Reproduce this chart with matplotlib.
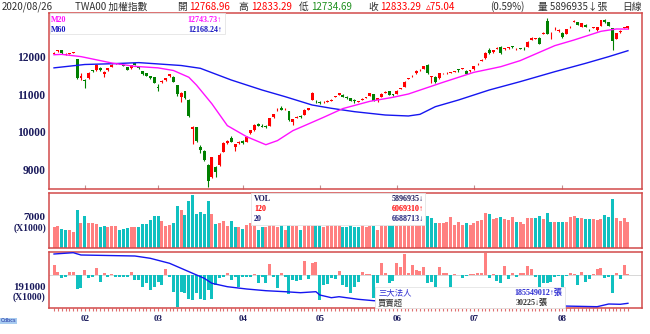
import matplotlib
matplotlib.use("Agg")
import matplotlib.pyplot as plt
import numpy as np
from matplotlib.patches import Rectangle

# ---------------- data ----------------
opens = [12080, 12150, 12175, 12060, 12085, 12110, 11947, 11440, 11390, 11440,
         11640, 11640, 11700, 11545, 11640, 11745, 11825, 11820, 11780, 11720,
         11700, 11840, 11720, 11620, 11560, 11490, 11460, 11200, 11330, 11390,
         11480, 11475, 11250, 10940, 11080, 10860, 10080, 10120, 9600, 9500,
         9120, 8800, 9060, 9120, 9475, 9700, 9830, 9610, 9700, 9760,
         9745, 9965, 10053, 10213, 10168, 10168, 10168, 10392, 10600, 10650,
         10600, 10560, 10276, 10385, 10430, 10453, 10590, 10853, 10800, 10810,
         10790, 10810, 10830, 10930, 10987, 10987, 10942, 10898, 10840, 10800,
         10865, 10905, 10970, 11004, 10853, 10942, 11050, 11084, 10990, 11013,
         11150, 11208, 11410, 11480, 11564, 11640, 11680, 11787, 11460, 11476,
         11431, 11560, 11560, 11580, 11600, 11670, 11690, 11636, 11620, 11671,
         11800, 11900, 11964, 12187, 12124, 12225, 12276, 12200, 12240, 12285,
         12200, 12230, 12235, 12276, 12460, 12480, 12515, 12625, 12968, 12580,
         12740, 12690, 12650, 12610, 12790, 12940, 12920, 12810, 12860, 12720,
         12780, 12710, 12835, 12990, 12925, 12773, 12480, 12670, 12770, 12768.96]
highs = [12130, 12197, 12185, 12100, 12110, 12140, 11950, 11560, 11400, 11600,
         11660, 11800, 11720, 11620, 11710, 11800, 11850, 11840, 11790, 11730,
         11790, 11850, 11740, 11635, 11580, 11500, 11470, 11290, 11390, 11450,
         11550, 11490, 11260, 11060, 11100, 10870, 10170, 10140, 9640, 9520,
         9140, 9330, 9080, 9440, 9720, 9780, 9900, 9690, 9760, 9780,
         9890, 10060, 10200, 10250, 10200, 10190, 10380, 10490, 10650, 10680,
         10640, 10570, 10350, 10420, 10445, 10600, 10650, 11060, 10840, 10830,
         10830, 10850, 10880, 10970, 11045, 11000, 10950, 10905, 10870, 10830,
         10900, 10935, 11040, 11010, 10910, 11030, 11080, 11090, 11000, 11110,
         11180, 11350, 11440, 11510, 11645, 11670, 11770, 11800, 11500, 11490,
         11575, 11585, 11590, 11600, 11630, 11690, 11710, 11650, 11665, 11770,
         11830, 11935, 12125, 12230, 12195, 12260, 12285, 12245, 12270, 12300,
         12230, 12250, 12260, 12420, 12525, 12510, 12525, 12660, 13040, 12660,
         12790, 12740, 12660, 12750, 12820, 12990, 12930, 12910, 12870, 12740,
         12810, 12810, 12995, 13000, 12935, 12780, 12640, 12720, 12800, 12833.29]
lows = [12070, 12140, 12090, 12040, 12070, 12100, 11420, 11380, 11170, 11420,
        11600, 11630, 11620, 11470, 11630, 11740, 11800, 11800, 11750, 11640,
        11690, 11780, 11680, 11530, 11480, 11420, 11300, 11080, 11310, 11370,
        11460, 11320, 10960, 10810, 10880, 10400, 9680, 9740, 9440, 9230,
        8523, 8780, 8800, 9100, 9460, 9680, 9720, 9480, 9690, 9680,
        9730, 9950, 10030, 10150, 10120, 10110, 10160, 10380, 10570, 10580,
        10580, 10300, 10187, 10370, 10380, 10440, 10580, 10840, 10770, 10750,
        10780, 10800, 10820, 10920, 10975, 10930, 10890, 10815, 10782, 10790,
        10860, 10895, 10960, 10830, 10800, 10935, 11040, 10980, 10970, 11000,
        11140, 11200, 11400, 11470, 11555, 11630, 11670, 11550, 11298, 11310,
        11420, 11550, 11550, 11570, 11590, 11610, 11670, 11540, 11610, 11660,
        11790, 11890, 11955, 12090, 12115, 12210, 12080, 12190, 12220, 12250,
        12190, 12210, 12180, 12270, 12450, 12470, 12340, 12610, 12600, 12480,
        12720, 12670, 12510, 12600, 12780, 12920, 12850, 12800, 12790, 12690,
        12760, 12700, 12830, 12915, 12825, 12187, 12470, 12650, 12760, 12734.69]
closes = [12113, 12180, 12100, 12085, 12100, 12118, 11450, 11495, 11360, 11573,
          11615, 11787, 11640, 11600, 11700, 11790, 11830, 11815, 11765, 11660,
          11780, 11790, 11700, 11550, 11500, 11440, 11315, 11170, 11370, 11440,
          11540, 11340, 11000, 11040, 10900, 10430, 10128, 9760, 9510, 9260,
          8700, 9320, 8920, 9380, 9700, 9760, 9745, 9670, 9730, 9700,
          9875, 10050, 10187, 10160, 10125, 10130, 10365, 10480, 10615, 10590,
          10615, 10320, 10338, 10395, 10392, 10587, 10630, 11048, 10790, 10770,
          10810, 10830, 10860, 10945, 11031, 10942, 10898, 10827, 10820, 10810,
          10885, 10920, 11031, 10836, 10898, 11022, 11060, 10987, 10985, 11102,
          11170, 11342, 11431, 11500, 11636, 11655, 11760, 11564, 11480, 11325,
          11564, 11568, 11570, 11585, 11615, 11650, 11700, 11547, 11653, 11760,
          11820, 11925, 12115, 12098, 12187, 12230, 12098, 12231, 12245, 12276,
          12205, 12225, 12230, 12409, 12515, 12490, 12350, 12630, 12613, 12590,
          12750, 12700, 12520, 12740, 12810, 12950, 12860, 12900, 12800, 12710,
          12790, 12800, 12987, 12925, 12835, 12418, 12632, 12680, 12780, 12833.29]

volume_k = [4850, 5000, 4260, 3960, 3960, 3590, 8480, 5740, 7220, 5740,
            5590, 5440, 4850, 5000, 4630, 5000, 5070, 3960, 4260, 4480,
            4850, 4700, 4630, 5440, 5440, 6330, 7220, 7220, 6110, 5070,
            5220, 5740, 9440, 8560, 7440, 10560, 12040, 7590, 8190, 7590,
            10560, 7590, 5370, 5740, 6110, 5000, 6110, 4630, 4630, 4260,
            5220, 5590, 5220, 4110, 4630, 4700, 5370, 5370, 4700, 5370,
            3960, 5370, 5070, 5000, 4110, 5370, 5370, 5370, 5370, 5370,
            4850, 5100, 5220, 5370, 5220, 4850, 4850, 5370, 4850, 4850,
            5220, 4630, 5000, 5070, 4110, 5220, 5070, 5220, 5370, 5000,
            5370, 5370, 5370, 5370, 5370, 5370, 5370, 7220, 6850, 5740,
            5740, 5590, 5810, 6930, 5220, 5810, 5220, 5590, 5220, 5740,
            6180, 6330, 7960, 7670, 6480, 6700, 7070, 6480, 6330, 6930,
            5960, 5960, 5370, 6850, 6700, 6700, 7220, 6480, 7820, 5960,
            5960, 5960, 5960, 5960, 7070, 7300, 6700, 6700, 6480, 6480,
            6480, 6330, 6480, 7440, 7000, 10960, 6700, 6110, 6700, 5897]

inst_net = [100, 33, -27, -17, 33, 33, -143, -133, 50, -33,
            -23, 67, -67, 23, -23, 10, -17, -23, -17, -23,
            33, -50, -50, -117, -83, -150, -117, -67, -100, 60,
            -23, -167, -323, -167, -183, -243, -250, -183, -243, -250,
            -150, -243, -100, -33, -23, 17, -50, -17, -117, -17,
            -17, -17, 10, -83, -17, -83, 110, -17, -133, 17,
            -17, -190, -50, -57, -50, 143, -43, 117, 133, -250,
            -100, -90, -30, -43, 40, -100, -123, -177, -117, -67,
            33, 10, 10, -233, -77, 117, 23, -83, -57, 117,
            83, 210, 23, 100, 50, 43, 83, -83, -67, -117,
            83, 17, 17, -117, 10, 5, -33, -10, 7, 7,
            23, 23, 223, -33, 7, -60, -83, 90, -43, 23,
            -17, 23, 17, 90, 57, -17, -117, -83, -77, -67,
            -17, -10, -117, -10, 17, 10, -100, 33, -67, -43,
            7, 57, 67, -33, -17, -177, 23, -43, 100, 7]

m20_idx = [0, 2, 7, 15, 21, 27, 31, 35, 37, 41, 45, 50, 55, 58, 62, 65, 70, 75,
           82, 88, 92, 101, 109, 114, 116, 121, 130, 135, 142, 146, 149]
m20_val = [12060, 12070, 12010, 11840, 11750, 11710, 11640, 11460, 11250, 10750,
           10170, 9875, 9661, 9770, 10035, 10168, 10392, 10625, 10818, 10925,
           11013, 11325, 11591, 11698, 11742, 11902, 12302, 12453, 12685, 12747, 12744]
m60_idx = [0, 8, 15, 22, 33, 38, 46, 54, 60, 67, 72, 78, 86, 92, 95, 99, 105,
           113, 121, 130, 138, 144, 149]
m60_val = [11710, 11800, 11820, 11850, 11773, 11698, 11387, 11120, 10942, 10720,
           10632, 10542, 10453, 10427, 10471, 10675, 10853, 11120, 11342, 11608,
           11831, 12009, 12168]

cum_idx = [0, 5, 7, 21, 25, 30, 33, 36, 39, 41, 45, 50, 55, 60, 64, 68, 69, 72,
           74, 79, 83, 95, 110, 125, 132, 141, 144, 147, 149]
cum_val = [0, 130, -100, -200, -430, -930, -1430, -1930, -2430, -2930, -3270,
           -3500, -3670, -3770, -3870, -3770, -4100, -4370, -4270, -4530, -4670,
           -4900, -4950, -5100, -5200, -5270, -5000, -5030, -4930]

month_idx = [8, 27, 49, 69, 89, 109, 132]
month_labels = ["02", "03", "04", "05", "06", "07", "08"]
price_ticks = [9000, 10000, 11000, 12000]

# ---------------- style ----------------
RED = "#ff0000"
GREEN = "#008000"
SALMON = "#ff8080"
TEAL = "#10c0c0"
NAVY = "#1a1a5c"
SPINE = "#d24a4a"
SERIF = ["Liberation Serif", "DejaVu Serif"]
CJK = ["Noto Sans CJK TC", "DejaVu Sans"]

W, H = 650, 334
fig = plt.figure(figsize=(W / 100, H / 100), dpi=100)
fig.patch.set_facecolor("white")


def fx(px):
    return px / W


def fy(py):
    return 1 - py / H


def axes_px(x0, y0, x1, y1):
    return [fx(x0), fy(y1), (x1 - x0) / W, (y1 - y0) / H]


ax1 = fig.add_axes(axes_px(49, 13, 642, 189))
ax2 = fig.add_axes(axes_px(49, 192.5, 642, 248))
ax3 = fig.add_axes(axes_px(49, 252, 642, 308))

o = np.array(opens, float)
h = np.array(highs, float)
l = np.array(lows, float)
c = np.array(closes, float)
n = len(c)
x = np.arange(n)

for ax in (ax1, ax2, ax3):
    ax.set_xlim(-1.3, 152.65)
    for s in ax.spines.values():
        s.set_color(SPINE)
        s.set_linewidth(1.1)
    ax.set_facecolor("white")

# ----- main candle panel -----
up = c >= o
ccol = np.where(up, RED, GREEN)
ax1.vlines(x, l, h, colors=ccol, linewidth=0.8, zorder=2)
body_b = np.minimum(o, c)
body_h = np.maximum(np.abs(c - o), 18)
ax1.bar(x, body_h, bottom=body_b, width=0.76, color=ccol, linewidth=0, zorder=3)
ax1.plot(m60_idx, m60_val, color="#1515f0", linewidth=1.0, zorder=4)
ax1.plot(m20_idx, m20_val, color="#ff10ff", linewidth=1.0, zorder=4)
ax1.set_ylim(8480, 13173)
ax1.set_yticks(price_ticks)
ax1.set_yticklabels([str(v) for v in price_ticks])
ax1.tick_params(axis="y", length=0, pad=2.4, labelsize=8.3, labelcolor=NAVY)
for t in ax1.get_yticklabels():
    t.set_fontfamily(SERIF)
    t.set_fontweight("bold")
ax1.set_xticks(month_idx)
ax1.tick_params(axis="x", direction="in", length=3, color="#c09090", labelbottom=False)

# ----- volume panel -----
prev = np.concatenate([[o[0]], c[:-1]])
vcol = np.where(c >= prev, SALMON, TEAL)
ax2.bar(x, volume_k, width=0.78, color=vcol, linewidth=0)
ax2.set_ylim(0, 12530)
ax2.set_yticks([7000])
ax2.set_yticklabels(["7000"])
ax2.tick_params(axis="y", length=0, pad=2.4, labelsize=8.0, labelcolor=NAVY)
for t in ax2.get_yticklabels():
    t.set_fontfamily(SERIF)
    t.set_fontweight("bold")
ax2.annotate("(X1000)", xy=(0, 7000), xycoords=("axes fraction", "data"),
             xytext=(-2, -8), textcoords="offset points", ha="right", va="center",
             fontsize=7, fontweight="bold", family=SERIF, color=NAVY)
ax2.set_xticks([])

# ----- institutional panel -----
icol = np.where(np.array(inst_net) >= 0, SALMON, TEAL)
ax3.bar(x, inst_net, width=0.78, color=icol, linewidth=0)
ax3.axhline(0, color="#c8c8c8", linewidth=0.5, zorder=0)
ax3.set_ylim(-330, 230)
ax3.set_yticks([])
ax3b = ax3.twinx()
ax3b.plot(cum_idx, cum_val, color="#1515f0", linewidth=1.0)
ax3b.set_ylim(-5400, 200)
ax3b.set_yticks([])
for s in ax3b.spines.values():
    s.set_visible(False)
ax3.set_xticks(month_idx)
ax3.set_xticklabels(month_labels)
ax3.set_xticks(x, minor=True)
ax3.tick_params(axis="x", which="both", direction="out", length=2, width=0.8,
                color="#e07070", pad=3, labelsize=6.5, labelcolor=NAVY)
for t in ax3.get_xticklabels():
    t.set_fontfamily(SERIF)
    t.set_fontweight("bold")
ax3.text(-0.006, 0.375, "191000", transform=ax3.transAxes, ha="right", va="center",
         fontsize=7.8, fontweight="bold", family=SERIF, color=NAVY)
ax3.text(-0.006, 0.2, "(X1000)", transform=ax3.transAxes, ha="right", va="center",
         fontsize=7, fontweight="bold", family=SERIF, color=NAVY)

# ----- legend boxes (figure level, drawn over the axes) -----
def box(x0, y0, x1, y1, ec="#e4e4e4"):
    fig.add_artist(Rectangle((fx(x0), fy(y1)), (x1 - x0) / W, (y1 - y0) / H,
                             transform=fig.transFigure, facecolor="white",
                             edgecolor=ec, linewidth=0.6, zorder=5))


def txt(px, py, s, color, size, family, weight="normal", ha="left"):
    fig.text(fx(px), fy(py), s, color=color, fontsize=size, family=family,
             fontweight=weight, ha=ha, va="center", zorder=6)


box(49.5, 13.5, 225, 34)
txt(51, 20, "M20", "#ff10ff", 5.8, SERIF, "bold")
txt(222, 20, "12743.73\u2191", "#ff10ff", 5.8, SERIF, "bold", ha="right")
txt(51, 30, "M60", "#1515c0", 5.8, SERIF, "bold")
txt(222, 30, "12168.24\u2191", "#1515c0", 5.8, SERIF, "bold", ha="right")

box(251, 193, 425, 225)
txt(254, 199, "VOL", NAVY, 5.8, SERIF, "bold")
txt(254, 209, "120", RED, 5.8, SERIF, "bold")
txt(254, 219, "20", "#20207a", 5.8, SERIF, "bold")
txt(424, 199, "5896935\u2193", NAVY, 5.8, SERIF, "bold", ha="right")
txt(424, 209, "6069310\u2191", RED, 5.8, SERIF, "bold", ha="right")
txt(424, 219, "6688713\u2193", "#20207a", 5.8, SERIF, "bold", ha="right")

box(375, 287, 565, 307.5)
txt(378, 293, "三大法人", "#2a2ad0", 6.0, CJK)
txt(378, 303, "買賣超", "#303030", 6.0, CJK)
txt(562, 293, "185549012\u2191張", "#2a2ad0", 5.8, SERIF + CJK, "bold", ha="right")
txt(548, 303, "30225\u2193張", "#303030", 5.8, SERIF + CJK, "bold", ha="right")

# ----- header -----
HS = 7.0
txt(2, 7, "2020/08/26", "#303030", HS, CJK)
txt(75, 7, "TWA00 加權指數", "#303030", HS, CJK)
txt(177, 7, "開", "#303030", HS, CJK)
txt(189, 7, "12768.96", RED, HS, CJK)
txt(238, 7, "高", "#303030", HS, CJK)
txt(251, 7, "12833.29", RED, HS, CJK)
txt(299, 7, "低", "#303030", HS, CJK)
txt(311, 7, "12734.69", "#209020", HS, CJK)
txt(368, 7, "收", "#303030", HS, CJK)
txt(380, 7, "12833.29", RED, HS, CJK)
txt(426, 7, "\u25b575.04", RED, HS, CJK)
txt(490, 7, "(0.59%)", "#303030", HS, CJK)
txt(538, 7, "量 5896935\u2193張", "#303030", HS, CJK)
txt(622, 7, "日線", "#303030", HS, CJK)

fig.text(fx(1), fy(321), "Odbcs", fontsize=3.6, color="#1a2aa0",
         bbox=dict(facecolor="#a8ccf0", edgecolor="none", pad=0.4), va="center")

fig.savefig("out.png", dpi=100, facecolor="white")
